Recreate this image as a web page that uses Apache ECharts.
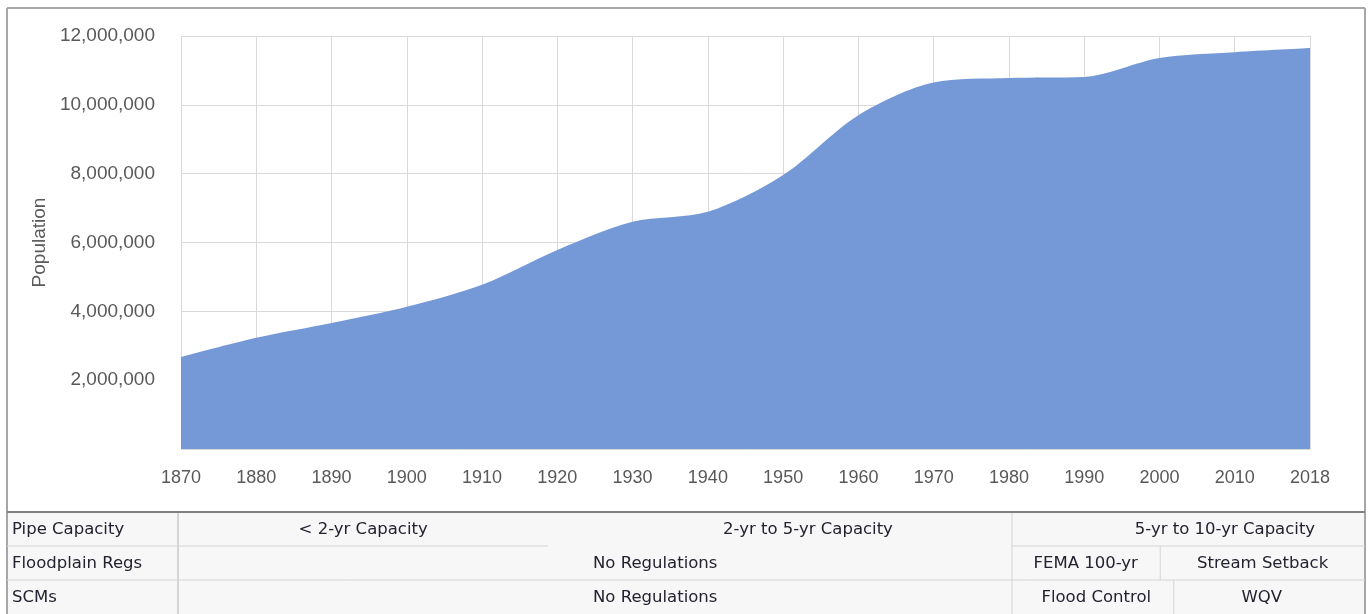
<!DOCTYPE html>
<html>
<head>
<meta charset="utf-8">
<script src="https://cdn.jsdelivr.net/npm/echarts@6/dist/echarts.min.js"></script>
<style>
html,body{margin:0;padding:0;background:#fff;}
#chart{width:1369px;height:614px;}
</style>
</head>
<body>
<div id="chart"></div>
<script>
// ---- data ----
const years = ['1870','1880','1890','1900','1910','1920','1930','1940','1950','1960','1970','1980','1990','2000','2010','2018'];
const population = [2670000, 3230000, 3660000, 4130000, 4770000, 5780000, 6600000, 6890000, 7960000, 9700000, 10650000, 10780000, 10810000, 11360000, 11530000, 11650000];
const yTicks = [0, 2000000, 4000000, 6000000, 8000000, 10000000, 12000000];

// table: row labels and cells (positions in category-index units along the x axis)
const rowLabels = ['Pipe Capacity', 'Floodplain Regs', 'SCMs'];
const pipeCells = [
  {from: -0.04, to: 4.876, text: '< 2-yr Capacity', at: 2.42},
  {from: 4.876, to: 11.04, text: '2-yr to 5-yr Capacity', at: 8.33},
  {from: 11.04, to: 15.73, text: '5-yr to 10-yr Capacity', at: 13.87}
];
const floodplainCells = [
  {from: -0.04, to: 11.04, text: 'No Regulations', at: 6.30},
  {from: 11.04, to: 13.01, text: 'FEMA 100-yr', at: 12.02},
  {from: 13.01, to: 15.73, text: 'Stream Setback', at: 14.37}
];
const scmCells = [
  {from: -0.04, to: 11.04, text: 'No Regulations', at: 6.30},
  {from: 11.04, to: 13.19, text: 'Flood Control', at: 12.16},
  {from: 13.19, to: 15.73, text: 'WQV', at: 14.36}
];

const chart = echarts.init(document.getElementById('chart'), null, {renderer: 'canvas'});
const axisFont = 'Liberation Sans';
const tableFont = 'DejaVu Sans';

chart.setOption({
  animation: false,
  backgroundColor: '#fff',
  grid: {left: 181, right: 59, top: 36, bottom: 165, containLabel: false},
  xAxis: [{
    type: 'category',
    data: years,
    boundaryGap: false,
    axisLine: {show: false},
    axisTick: {show: false},
    axisLabel: {color: '#595959', fontFamily: axisFont, fontSize: 18, margin: 20, interval: 0},
    splitLine: {show: true, lineStyle: {color: '#d9d9d9', width: 1}}
  }, {
    type: 'value', min: 0, max: years.length - 1, show: false
  }],
  yAxis: {
    type: 'value',
    min: 0, max: 12000000, interval: 2000000,
    name: 'Population',
    nameLocation: 'middle',
    nameRotate: 90,
    nameGap: 132,
    nameTextStyle: {color: '#595959', fontFamily: axisFont, fontSize: 19},
    axisLine: {show: false},
    axisTick: {show: false},
    axisLabel: {
      color: '#595959', fontFamily: axisFont, fontSize: 19, margin: 26,
      formatter: v => (v === 0 ? '' : v.toLocaleString('en-US'))
    },
    splitLine: {show: true, lineStyle: {color: '#d9d9d9', width: 1}}
  },
  series: [{
    type: 'line',
    data: population,
    smooth: 0.3,
    symbol: 'none',
    lineStyle: {width: 0},
    areaStyle: {color: '#7599d7', opacity: 1},
    itemStyle: {color: '#7599d7'}
  }]
});

// ---- table below the chart, positioned from the x-axis scale ----
const px = v => chart.convertToPixel({xAxisIndex: 1}, v);
const frameL = 7, frameR = 1365, frameT = 8;
const rowY = [512, 546, 580, 614];
const gridLineColor = '#d4d4d4';
const g = [];

function line(x1, y1, x2, y2, color, w) {
  g.push({type: 'line', shape: {x1, y1, x2, y2}, style: {stroke: color, lineWidth: w}, silent: true});
}
function text(x, y, s, align) {
  g.push({type: 'text', x, y, style: {text: s, font: '16.5px "' + tableFont + '"', fill: '#222230', align: align, verticalAlign: 'middle'}, silent: true});
}

// cell backgrounds
g.push({type: 'rect', shape: {x: frameL, y: rowY[0], width: frameR - frameL, height: rowY[3] - rowY[0]}, style: {fill: '#f7f7f7'}, silent: true});

// outer frame
line(frameL, frameT, frameR, frameT, '#a6a6a6', 2);
line(frameL, frameT, frameL, 614, '#a6a6a6', 2);
line(frameR, frameT, frameR, 614, '#a6a6a6', 2);

// horizontal grid lines of the table
const rows = [pipeCells, floodplainCells, scmCells];
line(frameL, rowY[1], px(pipeCells[0].to), rowY[1], gridLineColor, 1);
line(px(pipeCells[2].from), rowY[1], frameR, rowY[1], gridLineColor, 1);
line(frameL, rowY[2], frameR, rowY[2], gridLineColor, 1);

// vertical dividers
const labelDiv = px(pipeCells[0].from);
line(labelDiv, rowY[0], labelDiv, rowY[3], gridLineColor, 2);
line(px(pipeCells[2].from), rowY[0], px(pipeCells[2].from), rowY[3], gridLineColor, 1);
line(px(floodplainCells[2].from), rowY[1], px(floodplainCells[2].from), rowY[2], gridLineColor, 1);
line(px(scmCells[2].from), rowY[2], px(scmCells[2].from), rowY[3], gridLineColor, 1);

// table top line
line(frameL, rowY[0], frameR, rowY[0], '#808080', 2);

// labels
rows.forEach((cells, r) => {
  const yc = (rowY[r] + rowY[r + 1]) / 2 + 1;
  text(frameL + 5, yc, rowLabels[r], 'left');
  cells.forEach(c => text(px(c.at), yc, c.text, 'center'));
});

chart.setOption({graphic: g});
</script>
</body>
</html>
